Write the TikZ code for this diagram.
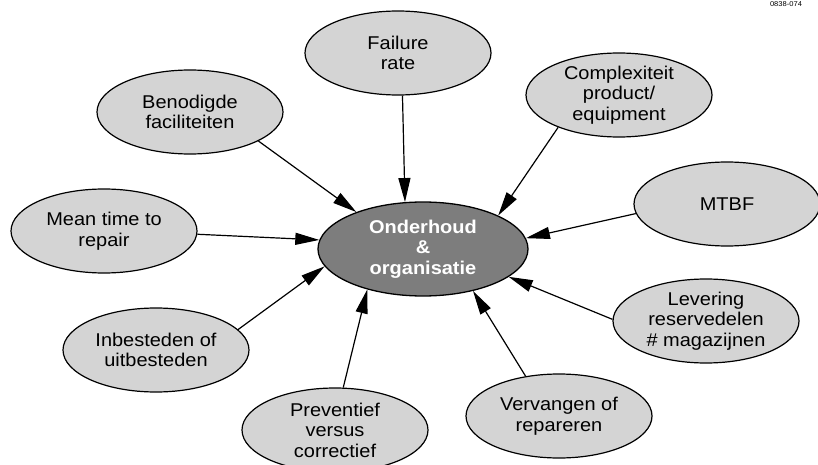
\documentclass[tikz,border=0pt]{standalone}
\usepackage{fontspec}
\setmainfont[FakeStretch=1.08]{Liberation Sans}
\usetikzlibrary{shapes.geometric,arrows.meta}
\definecolor{bubble}{RGB}{212,212,212}
\definecolor{hub}{RGB}{125,125,125}
\begin{document}
\begin{tikzpicture}[x=1pt,y=-1pt,
  factor/.style={ellipse,draw=black,line width=1.2pt,fill=bubble,inner sep=0pt,
    minimum width=186pt,minimum height=84pt,align=center,
    font=\fontsize{18.5}{20.5}\selectfont},
  core/.style={ellipse,draw=black,line width=1.3pt,fill=hub,inner sep=0pt,
    minimum width=210pt,minimum height=94pt,align=center,text=white,
    font=\bfseries\fontsize{18.5}{20.5}\selectfont},
  link/.style={line width=1.2pt,-{Triangle[length=24pt,width=12pt]}}]
\useasboundingbox (0,0) rectangle (818,465);

% hub
\node[core] (hub) at (423,249) {Onderhoud\\\&\\organisatie};

% surrounding factors
\node[factor] (fail)  at (398,53)  {Failure\\rate};
\node[factor] (cplx)  at (619,95)  {Complexiteit\\product/\\equipment};
\node[factor] (fac)   at (190,112) {Benodigde\\faciliteiten};
\node[factor] (mtbf)  at (727,204) {MTBF};
\node[factor] (mttr)  at (104,231) {Mean time to\\repair};
\node[factor] (lev)   at (706,321) {Levering\\reservedelen\\\# magazijnen};
\node[factor] (inb)   at (156,350) {Inbesteden of\\uitbesteden};
\node[factor] (verv)  at (559,416) {Vervangen of\\repareren};
\node[factor] (prev)  at (335,430) {Preventief\\versus\\correctief};

% connectors into the hub
\draw[link] (fail.276) -- (hub.111);
\draw[link] (fac.337)  -- (hub.151);
\draw[link] (cplx.208) -- (hub.24);
\draw[link] (mtbf.186) -- (hub.6);
\draw[link] (mttr.358) -- (hub.175);
\draw[link] (inb.14)   -- (hub.190);
\draw[link] (prev.79)  -- (hub.216);
\draw[link] (verv.130) -- (hub.320);
\draw[link] (lev.179)  -- (hub.342);

% drawing number in the top right corner
\node[font=\fontsize{7}{8}\selectfont,inner sep=0pt,anchor=base] (code) at (786,6.5) {0838-074};
\end{tikzpicture}
\end{document}
